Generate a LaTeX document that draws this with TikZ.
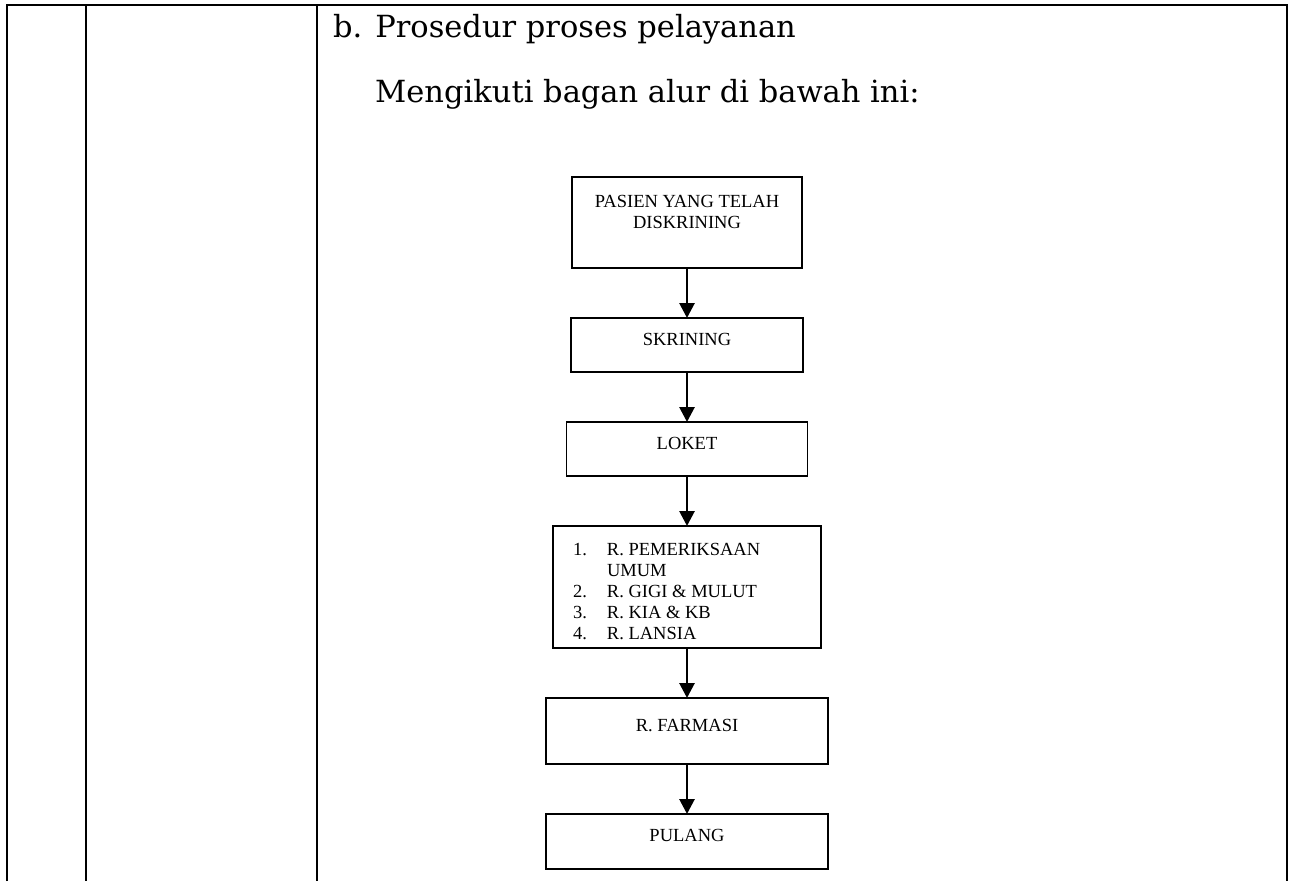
\documentclass[tikz,border=0pt]{standalone}
\usepackage{fontspec}
\usepackage{tikz}
\usetikzlibrary{positioning,arrows.meta}
\newfontfamily\headfont{DejaVu Serif}
\newfontfamily\boxfont{Liberation Serif}

\begin{document}
\begin{tikzpicture}[x=1pt,y=-1pt,node distance=50pt,
   box/.style={draw,line width=1.5pt,font=\boxfont\fontsize{18.5}{21}\selectfont,
      align=center,text height=12pt,text depth=12pt,inner sep=0pt,outer sep=0pt},
   heading/.style={anchor=base west,inner sep=0pt,font=\headfont\fontsize{30.5}{36}\selectfont},
   rule/.style={line width=2.8pt},
   >={Triangle[width=15pt,length=15pt]}]
   \useasboundingbox (0,0) rectangle (1289,881);
   % table lines
   \draw[rule] (7,881) -- (7,5) -- (1287,5) -- (1287,881);
   \draw[rule] (86,5) -- (86,881);
   \draw[rule] (317,5) -- (317,881);
   \node[heading] (judul) at (333,37) {b. Prosedur proses pelayanan};
   \node[heading] (intro) at (375,102) {Mengikuti bagan alur di bawah ini:};
   % alur
   \node[box,minimum width=230pt,minimum height=91pt,text height=33pt,text depth=22pt] (pasien) at (687,222.5) {PASIEN YANG TELAH\\DISKRINING};
   \node[box,minimum width=232pt,minimum height=54pt] (skrining) [below=of pasien] {SKRINING};
   \node[box,minimum width=241pt,minimum height=54pt] (loket) [below=of skrining] {LOKET};
   \node[box,minimum width=268pt,minimum height=122pt,text depth=76pt,align=left] (ruang) [below=of loket]
      {\begin{tabular}[t]{@{}p{34pt}@{}p{194pt}@{}}
       1. & R. PEMERIKSAAN\\
          & UMUM\\
       2. & R. GIGI \& MULUT\\
       3. & R. KIA \& KB\\
       4. & R. LANSIA
       \end{tabular}};
   \node[box,minimum width=282pt,minimum height=66pt] (farmasi) [below=of ruang] {R. FARMASI};
   \node[box,minimum width=282pt,minimum height=55pt] (pulang) [below=of farmasi] {PULANG};

   \path[->,line width=2.8pt]
   (pasien) edge (skrining)
   (skrining) edge (loket)
   (loket) edge (ruang)
   (ruang) edge (farmasi)
   (farmasi) edge (pulang);
\end{tikzpicture}
\end{document}
